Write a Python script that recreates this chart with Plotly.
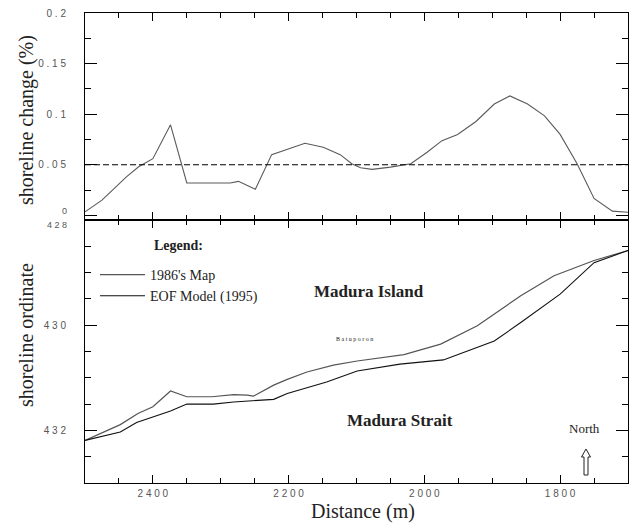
import plotly.graph_objects as go

# ---------------- data ----------------
dist_change = [2500, 2475, 2439, 2421, 2400, 2374, 2350, 2286, 2274, 2249, 2225, 2202,
               2176, 2149, 2124, 2107, 2094, 2077, 2050, 2020, 1996, 1974, 1951, 1924,
               1897, 1874, 1848, 1823, 1800, 1775, 1750, 1723, 1700]
shoreline_change = [0.0035, 0.015, 0.038, 0.048, 0.056, 0.0895, 0.032, 0.032, 0.0336, 0.0258,
                    0.060, 0.0656, 0.0713, 0.0673, 0.060, 0.051, 0.047, 0.0454, 0.0477, 0.051,
                    0.0624, 0.0738, 0.080, 0.0928, 0.110, 0.118, 0.110, 0.0983, 0.080, 0.051,
                    0.0167, 0.0042, 0.003]
threshold = 0.05

map1986_x = [2500, 2448, 2422, 2400, 2374, 2350, 2313, 2298, 2281, 2261, 2252, 2222, 2202,
             2173, 2134, 2099, 2030, 1976, 1922, 1858, 1809, 1750, 1700]
map1986_y = [432.19, 431.89, 431.68, 431.55, 431.25, 431.36, 431.36, 431.34, 431.32, 431.33,
             431.35, 431.14, 431.03, 430.89, 430.76, 430.68, 430.56, 430.36, 430.01, 429.44,
             429.06, 428.77, 428.58]

eof_x = [2500, 2448, 2424, 2400, 2374, 2350, 2311, 2281, 2252, 2222, 2202, 2144, 2099, 2036,
         1972, 1897, 1858, 1800, 1750, 1700]
eof_y = [432.19, 432.03, 431.85, 431.75, 431.63, 431.50, 431.50, 431.46, 431.44, 431.41,
         431.30, 431.08, 430.87, 430.74, 430.66, 430.30, 429.95, 429.41, 428.81, 428.58]

x_ticks = [2400, 2200, 2000, 1800]
x_ticktext = ["2 4 0 0", "2 2 0 0", "2 0 0 0", "1 8 0 0"]
top_yticks = [0, 0.05, 0.1, 0.15, 0.2]
top_yticktext = ["", "0 . 0 5", "0 . 1", "0 . 1 5", "0 . 2"]
low_yticks = [428, 430, 432]
low_yticktext = ["", "4 3 0", "4 3 2"]
edge_labels = ["0", "4 2 8"]  # labels at the shared panel edge, placed by hand

# ---------------- layout geometry ----------------
W, H = 634, 531
ML, MR, MT, MB = 85, 6, 13, 48
PW, PH = W - ML - MR, H - MT - MB
split = (483 - 220) / PH  # lower panel height fraction


def px(x, y):
    return (x - ML) / PW, (H - MB - y) / PH


SERIF = "Liberation Serif, Times New Roman, serif"
TICKFONT = dict(family="Liberation Sans", size=10, color="#555")

fig = go.Figure()

fig.add_trace(go.Scatter(x=dist_change, y=shoreline_change, mode="lines",
                         line=dict(color="#5a5a5a", width=1.1),
                         xaxis="x2", yaxis="y2", showlegend=False))
fig.add_trace(go.Scatter(x=map1986_x, y=map1986_y, mode="lines", name="1986's Map",
                         line=dict(color="#555555", width=1.2)))
fig.add_trace(go.Scatter(x=eof_x, y=eof_y, mode="lines", name="EOF Model (1995)",
                         line=dict(color="#111111", width=1.1)))

fig.add_shape(type="line", xref="x2 domain", yref="y2", x0=0, x1=1, y0=threshold, y1=threshold,
              line=dict(color="black", width=1.1, dash="6px,3px"))

common_x = dict(range=[2500, 1700], showline=True, linecolor="black", linewidth=1,
                mirror="ticks", ticks="inside", ticklen=8, tickcolor="black",
                tickmode="array", tickvals=x_ticks, showgrid=False, zeroline=False,
                minor=dict(tickmode="linear", tick0=0, dtick=50, ticks="inside",
                           ticklen=5, tickcolor="black", showgrid=False))
common_y = dict(showline=True, linecolor="black", linewidth=1, mirror="ticks",
                ticks="inside", ticklen=12, tickcolor="black", showgrid=False,
                zeroline=False, tickmode="array", tickfont=TICKFONT, ticklabelstandoff=16)

fig.update_layout(
    width=W, height=H,
    margin=dict(l=ML, r=MR, t=MT, b=MB),
    paper_bgcolor="white", plot_bgcolor="white",
    xaxis=dict(**common_x, anchor="y", domain=[0, 1], ticktext=x_ticktext,
               tickfont=TICKFONT, ticklabelstandoff=1),
    xaxis2=dict(**common_x, anchor="y2", domain=[0, 1], showticklabels=False,
                ticktext=x_ticktext),
    yaxis=dict(**common_y, domain=[0, split], range=[433, 428], tickvals=low_yticks,
               ticktext=low_yticktext,
               minor=dict(tickmode="linear", tick0=428, dtick=0.5, ticks="inside",
                          ticklen=6, tickcolor="black", showgrid=False)),
    yaxis2=dict(**common_y, domain=[split, 1], range=[-0.0046, 0.2], tickvals=top_yticks,
                ticktext=top_yticktext,
                minor=dict(tickmode="linear", tick0=0, dtick=0.025, ticks="inside",
                           ticklen=6, tickcolor="black", showgrid=False)),
    showlegend=True,
    legend=dict(x=px(95, 0)[0], y=px(0, 259)[1], xanchor="left", yanchor="top",
                bgcolor="rgba(0,0,0,0)", itemwidth=45, tracegroupgap=0,
                font=dict(family=SERIF, size=14, color="#222")),
)

# edge tick labels (would collide if drawn as normal tick labels)
for txt, yy in zip(edge_labels, [211, 225]):
    ax, ay = px(69, yy)
    fig.add_annotation(text=txt, x=ax, y=ay, xref="paper", yref="paper", showarrow=False,
                       xanchor="right", yanchor="middle",
                       font=dict(family="Liberation Sans", size=9, color="#555"))

annos = [
    dict(text="shoreline change (%)", x=26, y=120, size=20, angle=-90),
    dict(text="shoreline ordinate", x=26, y=335, size=20, angle=-90),
    dict(text="Distance (m)", x=363, y=512, size=20, angle=0),
    dict(text="<b>Legend:</b>", x=178, y=245, size=14, angle=0),
    dict(text="<b>Madura Island</b>", x=369, y=291, size=17, angle=0),
    dict(text="<b>Madura Strait</b>", x=400, y=420, size=17, angle=0),
    dict(text="North", x=584, y=428, size=13, angle=0),
    dict(text="B a t u p o r o n", x=354, y=339, size=6, angle=0),
]
for a in annos:
    ax, ay = px(a["x"], a["y"])
    fig.add_annotation(text=a["text"], x=ax, y=ay, xref="paper", yref="paper",
                       showarrow=False, textangle=a["angle"], xanchor="center",
                       yanchor="middle",
                       font=dict(family=SERIF, size=a["size"], color="#222"))

# hollow north arrow
pts = [(586, 449), (590.5, 457), (588, 457), (588, 475), (584, 475), (584, 457), (581.5, 457)]
path = "M " + " L ".join(f"{px(x, y)[0]:.5f},{px(x, y)[1]:.5f}" for x, y in pts) + " Z"
fig.add_shape(type="path", xref="paper", yref="paper", path=path,
              line=dict(color="#222", width=1), fillcolor="white")

fig.write_html("out.html")
